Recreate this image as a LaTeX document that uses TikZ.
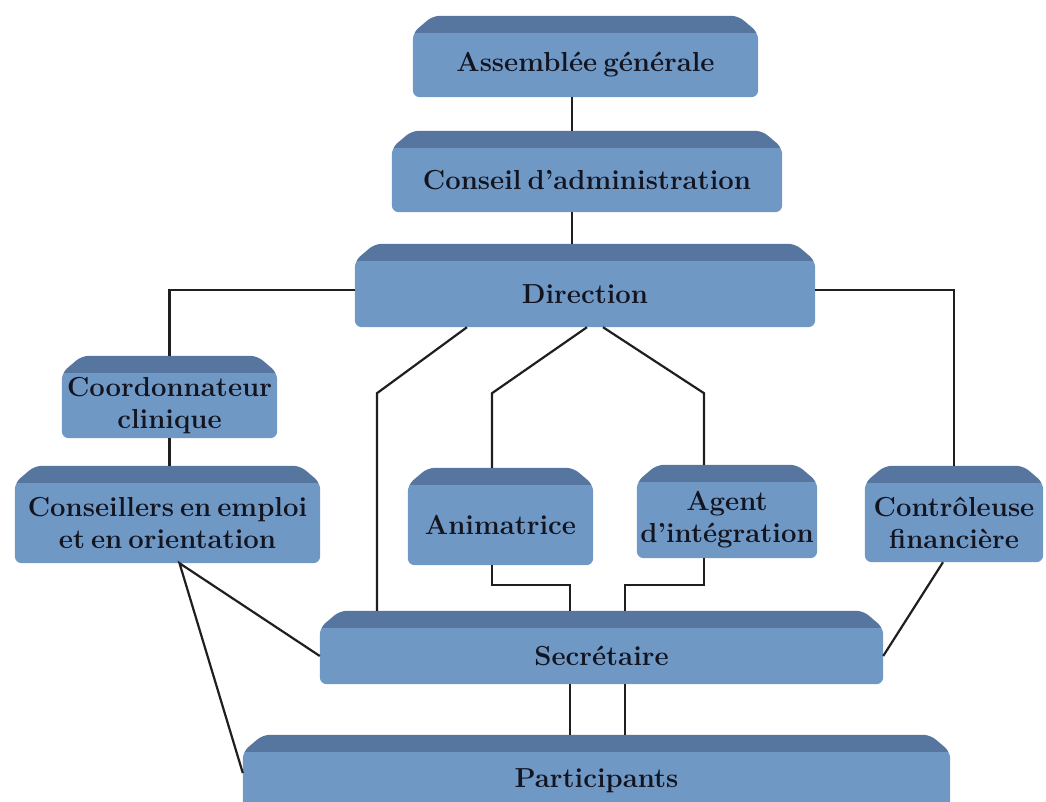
\documentclass[tikz,border=0pt]{standalone}
\usetikzlibrary{backgrounds}
\definecolor{boxface}{RGB}{112,152,197}
\definecolor{boxtop}{RGB}{86,118,160}
\definecolor{inkdark}{RGB}{18,20,32}
\newcommand{\bh}{17pt}
\newcommand{\ch}{20pt}
\newcommand{\boxfont}{\fontsize{27.5}{32}\selectfont\bfseries\spaceskip=.22em plus .1em minus .05em\relax}
\tikzset{
  orgbox/.style={inner sep=0pt, align=center, text=inkdark, font=\boxfont},
  link/.style={line width=2.2pt, draw=black!88},
}
\begin{document}
\begin{tikzpicture}[x=1pt,y=1pt]
  \useasboundingbox (0,0) rectangle (1046,-801);
  % boxes (the face; the top band is drawn behind)
  \node[orgbox, minimum width=345, minimum height=64] (ag) at (585.5,-65) {Assemblée générale};
  \node[orgbox, minimum width=390, minimum height=64] (ca) at (587,-180) {Conseil d’administration};
  \node[orgbox, minimum width=460, minimum height=66] (dir) at (585,-294) {Direction};
  \node[orgbox, minimum width=215, minimum height=65] (coo) at (169.5,-405.5) {Coordonnateur\\clinique};
  \node[orgbox, minimum width=305, minimum height=80] (cons) at (167.5,-523) {Conseillers en emploi\\et en orientation};
  \node[orgbox, minimum width=185, minimum height=80] (ani) at (500.5,-525) {Animatrice};
  \node[orgbox, minimum width=180, minimum height=76] (agt) at (727,-520) {Agent\\d’intégration};
  \node[orgbox, minimum width=178, minimum height=79] (ctl) at (954,-522.5) {Contrôleuse\\financière};
  \node[orgbox, minimum width=563, minimum height=56] (sec) at (601.5,-656) {Secrétaire};
  \node[orgbox, minimum width=707, minimum height=58] (par) at (596.5,-781) {Participants};

  \begin{scope}[on background layer]
    \foreach \n in {ag,ca,dir,coo,cons,ani,agt,ctl,sec,par}{
      \begin{scope}
        \path[clip, rounded corners=7pt] (\n.south west) -- (\n.north west)
          -- ([xshift=\ch,yshift=\bh]\n.north west) -- ([xshift=-\ch,yshift=\bh]\n.north east)
          -- (\n.north east) -- (\n.south east) -- cycle;
        \fill[boxface] ([xshift=-2pt,yshift=-2pt]\n.south west) rectangle ([xshift=2pt]\n.north east);
        \fill[boxtop] ([xshift=-2pt]\n.north west) rectangle ([xshift=2pt,yshift=20pt]\n.north east);
      \end{scope}
      \coordinate (\n-t) at ([yshift=\bh]\n.north);
    }
  \end{scope}

  % connectors
  \coordinate (spine) at (572,0);
  \draw[link] (ag.south -| spine) -- (ca-t -| spine);
  \draw[link] (ca.south -| spine) -- (dir-t -| spine);
  \draw[link] ([yshift=4pt]dir.west) -| (coo-t);
  \draw[link] ([yshift=4pt]dir.east) -| (ctl-t);
  \draw[link] (coo.south) -- (coo.south |- cons-t);
  \draw[link] ([xshift=-118pt]dir.south) -- ++(-90,-66) coordinate (b1) -- (b1 |- sec-t);
  \draw[link] ([xshift=2pt]dir.south) -- ++(-95,-66) coordinate (b2) -- (b2 |- ani-t);
  \draw[link] ([xshift=18pt]dir.south) -- ++(101,-66) coordinate (b3) -- (b3 |- agt-t);
  \draw[link] ([xshift=-8.5pt]ani.south) -- ++(0,-20) -| ([xshift=-31.5pt]sec-t);
  \draw[link] ([xshift=-23pt]agt.south) -- ++(0,-27) -| ([xshift=23.5pt]sec-t);
  \draw[link] ([xshift=-31.5pt]sec.south) coordinate (s1) -- (s1 |- par-t);
  \draw[link] ([xshift=23.5pt]sec.south) coordinate (s2) -- (s2 |- par-t);
  \draw[link] (sec.west) -- ([xshift=12pt]cons.south) -- ([yshift=8pt]par.west);
  \draw[link] ([xshift=-11pt]ctl.south) -- (sec.east);
\end{tikzpicture}
\end{document}
